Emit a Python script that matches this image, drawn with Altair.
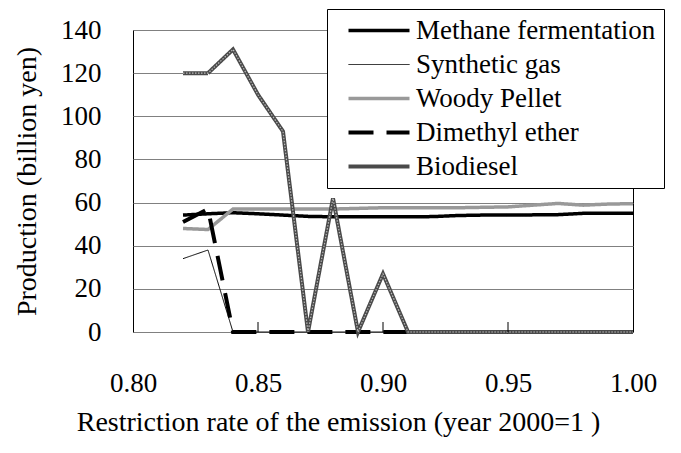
import altair as alt
import pandas as pd

rate = [0.82, 0.83, 0.84, 0.85, 0.86, 0.87, 0.88, 0.89, 0.90, 0.91,
        0.92, 0.93, 0.94, 0.95, 0.96, 0.97, 0.98, 0.99, 1.00]
methane = [54.2, 54.8, 55.3, 54.8, 54.2, 53.6, 53.4, 53.4, 53.4, 53.4,
           53.5, 54.0, 54.2, 54.2, 54.3, 54.4, 55.0, 55.0, 55.1]
synthetic = [34, 38, 0, 0, 0, 0, 0, 0, 0, 0, 0, 0, 0, 0, 0, 0, 0, 0, 0]
woody = [48, 47.5, 57, 57, 57, 57, 57, 57.3, 57.6, 57.6,
         57.6, 57.6, 57.8, 58.0, 58.8, 59.6, 58.8, 59.3, 59.5]
dimethyl = [51, 57, 0, 0, 0, 0, 0, 0, 0, 0, 0, 0, 0, 0, 0, 0, 0, 0, 0]
biodiesel = [120, 120, 131, 110, 93, 0, 62, 0, 27, 0, 0, 0, 0, 0, 0, 0, 0, 0, 0]

series_names = ["Methane fermentation", "Synthetic gas", "Woody Pellet",
                "Dimethyl ether", "Biodiesel"]
series_vals = [methane, synthetic, woody, dimethyl, biodiesel]
colors = ["#000000", "#000000", "#999999", "#000000", "#4a4a4a"]
widths = [3.5, 1, 3.5, 4, 4]
dashes = [[1, 0], [1, 0], [1, 0], [25, 13], [1, 0]]

x_ticks = [0.80, 0.85, 0.90, 0.95, 1.00]
y_ticks = [0, 20, 40, 60, 80, 100, 120, 140]
inner_ticks = [0.85, 0.90, 0.95]

rows = []
for name, vals in zip(series_names, series_vals):
    for r, v in zip(rate, vals):
        rows.append({"rate": r, "value": v, "series": name})
df = pd.DataFrame(rows)
df_bio = df[df["series"] == "Biodiesel"]

FONT = "Liberation Serif"

legend = alt.Legend(
    title=None, orient="none", legendX=194, legendY=-21,
    symbolType="M0,0H6.1", symbolSize=400, labelOffset=54,
    padding=8, strokeColor="black", fillColor="white", cornerRadius=0,
    labelFont=FONT, labelFontSize=27, labelFontWeight="normal",
    labelColor="black", rowPadding=6,
    labelLimit=600, labelExpr="datum.label + '               '",
)

x_enc = alt.X("rate:Q", scale=alt.Scale(domain=[0.80, 1.00], nice=False, zero=False),
              axis=alt.Axis(values=x_ticks, format=".2f", grid=False, domain=False,
                            ticks=False, tickSize=0, labelPadding=38,
                            labelFlush=False, labelFontWeight="normal",
                            labelFont=FONT, labelFontSize=27, labelColor="black",
                            title="Restriction rate of the emission  (year 2000=1 )",
                            titleFont=FONT, titleFontSize=28, titleFontWeight="normal",
                            titleColor="black", titleX=205, titleY=98,
                            titleBaseline="alphabetic", titleAlign="center"))
y_enc = alt.Y("value:Q", scale=alt.Scale(domain=[0, 140], nice=False),
              axis=alt.Axis(values=y_ticks, grid=True, gridColor="#808080",
                            gridWidth=1, domain=False, ticks=False, tickSize=0,
                            labelPadding=32, labelFont=FONT, labelFontWeight="normal",
                            labelFontSize=27, labelColor="black",
                            title="Production (billion yen)", titleFont=FONT,
                            titleFontSize=28, titleFontWeight="normal",
                            titleColor="black", titleX=-106, titleY=151,
                            titleAngle=270, titleBaseline="middle",
                            titleAlign="center"))

lines = alt.Chart(df).mark_line().encode(
    x=x_enc,
    y=y_enc,
    color=alt.Color("series:N", scale=alt.Scale(domain=series_names, range=colors),
                    legend=legend),
    strokeWidth=alt.StrokeWidth("series:N",
                                scale=alt.Scale(type="ordinal", domain=series_names,
                                                range=widths),
                                legend=legend),
    strokeDash=alt.StrokeDash("series:N",
                              scale=alt.Scale(domain=series_names, range=dashes),
                              legend=legend),
)

bio_texture = alt.Chart(df_bio).mark_line(
    color="#bbbbbb", strokeWidth=1.2, strokeDash=[1.5, 1.5]
).encode(x=alt.X("rate:Q"), y=alt.Y("value:Q"))

ticks_df = pd.DataFrame({"rate": inner_ticks})
tick_marks = alt.Chart(ticks_df).mark_rule(color="black", strokeWidth=1).encode(
    x=alt.X("rate:Q"), y=alt.value(302), y2=alt.value(292)
)

chart = alt.layer(lines, bio_texture, tick_marks).properties(
    width=500, height=302,
    autosize=alt.AutoSizeParams(type="none"),
    padding={"left": 125, "top": 22, "right": 40, "bottom": 110},
).configure(
    background="white", font=FONT
).configure_view(
    stroke="black", strokeWidth=1
)

chart.save("out.html", embed_options={"renderer": "svg", "actions": False})
